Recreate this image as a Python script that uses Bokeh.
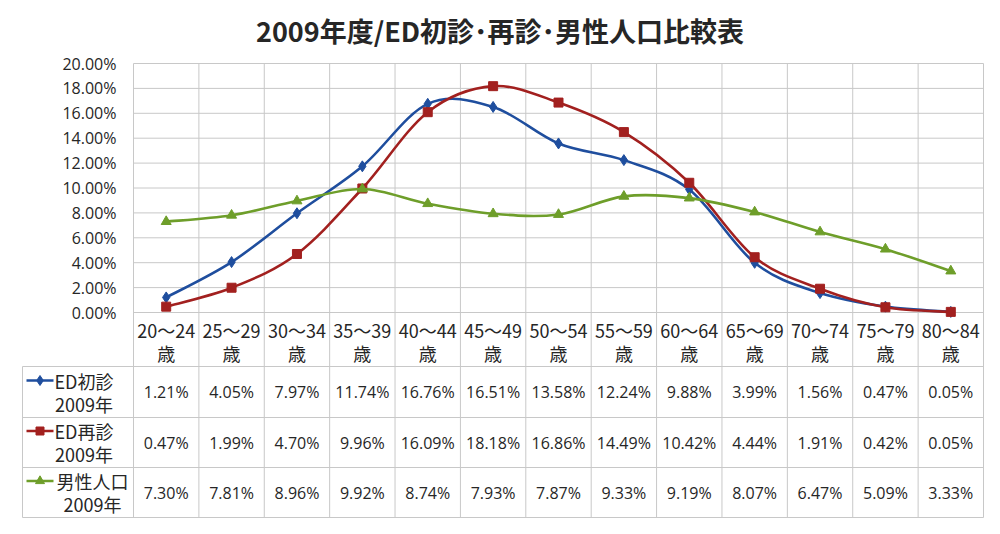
from bokeh.plotting import figure
from bokeh.models import Range1d, FixedTicker, NumeralTickFormatter, ColumnDataSource
from bokeh.core.properties import value
from bokeh.embed import file_html
from bokeh.resources import INLINE

# ---------------- data ----------------
title_text = "2009年度/ED初診･再診･男性人口比較表"
categories = ["20～24", "25～29", "30～34", "35～39", "40～44", "45～49", "50～54",
              "55～59", "60～64", "65～69", "70～74", "75～79", "80～84"]
age_suffix = "歳"
series_names = ["ED初診", "ED再診", "男性人口"]
series_year = "2009年"
ed_first = [1.21, 4.05, 7.97, 11.74, 16.76, 16.51, 13.58, 12.24, 9.88, 3.99, 1.56, 0.47, 0.05]
ed_revisit = [0.47, 1.99, 4.70, 9.96, 16.09, 18.18, 16.86, 14.49, 10.42, 4.44, 1.91, 0.42, 0.05]
male_pop = [7.30, 7.81, 8.96, 9.92, 8.74, 7.93, 7.87, 9.33, 9.19, 8.07, 6.47, 5.09, 3.33]
y_ticks = [0, 2, 4, 6, 8, 10, 12, 14, 16, 18, 20]

series_values = [ed_first, ed_revisit, male_pop]
series_colors = ["#1F4E9E", "#A2201F", "#6E9E2A"]
series_markers = ["diamond", "square", "triangle"]
marker_sizes = [11, 9, 10]

CJK = value("Noto Sans CJK JP")
LAT = value("Open Sans")
TXT = "#262626"
GRID = "#c8c8c8"

n = len(categories)
W, H = 984, 518
PLOT_L, PLOT_R = 133, 983      # pixel columns of category 0 / 13 boundaries
ZERO_Y, TOP_Y = 312, 63         # pixel rows of 0% and 20%
PX = (PLOT_R - PLOT_L) / n
PY = 0.20 / (ZERO_Y - TOP_Y)


def rx(c):
    return (c - PLOT_L) / PX


def ry(c):
    return (ZERO_Y - c) * PY


frame_l, frame_r, frame_t, frame_b = 21, 984, 0, 518

p = figure(width=W, height=H, output_backend="svg", toolbar_location=None,
           x_range=Range1d(rx(frame_l), rx(frame_r)), y_range=Range1d(ry(frame_b), ry(frame_t)),
           min_border_left=frame_l, min_border_right=W - frame_r,
           min_border_top=frame_t, min_border_bottom=H - frame_b,
           x_axis_location=None)
p.outline_line_color = None
for g in p.grid:
    g.visible = False

tick_vals = [t / 100 for t in y_ticks]
ax = p.yaxis[0]
ax.ticker = FixedTicker(ticks=tick_vals)
ax.formatter = NumeralTickFormatter(format="0.00%")
ax.axis_line_color = None
ax.major_tick_line_color = None
ax.minor_tick_line_color = None
ax.major_tick_out = 0
ax.major_tick_in = 0
ax.major_label_standoff = -(116 - frame_l)
ax.major_label_text_font = "Open Sans"
ax.major_label_text_font_size = "16px"
ax.major_label_text_color = TXT

# ---- title ----
p.text(x=[rx(499.5)], y=[ry(29.5)], text=[title_text], text_align="center", text_baseline="middle",
       text_font=CJK, text_font_size="27px", text_font_style="bold", text_color=TXT)

# ---- grid and table lines ----
table_left = rx(22)
row_tops = [366, 417, 467]
row_bottom = 517
hl = [ry(c) for c in row_tops + [row_bottom]]

p.segment(x0=[0] * len(tick_vals), y0=tick_vals, x1=[n] * len(tick_vals), y1=tick_vals,
          line_color=GRID, line_width=1)
p.segment(x0=list(range(n + 1)), y0=[ry(row_bottom)] * (n + 1), x1=list(range(n + 1)),
          y1=[max(tick_vals)] * (n + 1), line_color=GRID, line_width=1)
p.segment(x0=[table_left], y0=[hl[0]], x1=[table_left], y1=[hl[-1]], line_color=GRID, line_width=1)
p.segment(x0=[table_left] * len(hl), y0=hl, x1=[n] * len(hl), y1=hl, line_color=GRID, line_width=1)

xs = [i + 0.5 for i in range(n)]


def smooth_segments(xv, yv):
    pts = list(zip(xv, yv))
    d = dict(x0=[], y0=[], x1=[], y1=[], cx0=[], cy0=[], cx1=[], cy1=[])
    for i in range(len(pts) - 1):
        pa = pts[i - 1] if i > 0 else pts[i]
        pb, pc = pts[i], pts[i + 1]
        pd = pts[i + 2] if i + 2 < len(pts) else pts[i + 1]
        d["x0"].append(pb[0]); d["y0"].append(pb[1])
        d["x1"].append(pc[0]); d["y1"].append(pc[1])
        d["cx0"].append(pb[0] + (pc[0] - pa[0]) / 6); d["cy0"].append(pb[1] + (pc[1] - pa[1]) / 6)
        d["cx1"].append(pc[0] - (pd[0] - pb[0]) / 6); d["cy1"].append(pc[1] - (pd[1] - pb[1]) / 6)
    return d


for vals, col, mk, ms in zip(series_values, series_colors, series_markers, marker_sizes):
    ys = [v / 100 for v in vals]
    seg = ColumnDataSource(smooth_segments(xs, ys))
    p.bezier(x0="x0", y0="y0", x1="x1", y1="y1", cx0="cx0", cy0="cy0", cx1="cx1", cy1="cy1",
             source=seg, line_color=col, line_width=2.6)
    p.scatter(xs, ys, marker=mk, size=ms, fill_color=col, line_color=col)

# ---- category header ----
p.text(x=xs, y=[ry(ZERO_Y + 17)] * n, text=categories, text_align="center", text_baseline="middle",
       text_font=CJK, text_font_size="18px", text_color=TXT)
p.text(x=xs, y=[ry(ZERO_Y + 40)] * n, text=[age_suffix] * n, text_align="center",
       text_baseline="middle", text_font=CJK, text_font_size="18px", text_color=TXT)

# ---- table rows ----
name_cx = [rx(83.5), rx(83.5), rx(92)]
for k, (vals, col, mk, ms) in enumerate(zip(series_values, series_colors, series_markers, marker_sizes)):
    top = row_tops[k]
    bot = hl and (row_tops + [row_bottom])[k + 1]
    mid = (top + bot) / 2
    p.text(x=xs, y=[ry(mid)] * n, text=[f"{v:.2f}%" for v in vals], text_align="center",
           text_baseline="middle", text_font=LAT, text_font_size="16px", text_color=TXT)
    p.segment(x0=[rx(26)], y0=[ry(mid - 11.5)], x1=[rx(53)], y1=[ry(mid - 11.5)],
              line_color=col, line_width=2.6)
    p.scatter([rx(39.5)], [ry(mid - 11.5)], marker=mk, size=ms - 1, fill_color=col, line_color=col)
    p.text(x=[name_cx[k]], y=[ry(mid - 11.5)], text=[series_names[k]], text_align="center",
           text_baseline="middle", text_font=CJK, text_font_size="18px", text_color=TXT)
    p.text(x=[name_cx[k]], y=[ry(mid + 11.5)], text=[series_year], text_align="center",
           text_baseline="middle", text_font=CJK, text_font_size="18px", text_color=TXT)

open("out.html", "w").write(file_html(p, INLINE))
